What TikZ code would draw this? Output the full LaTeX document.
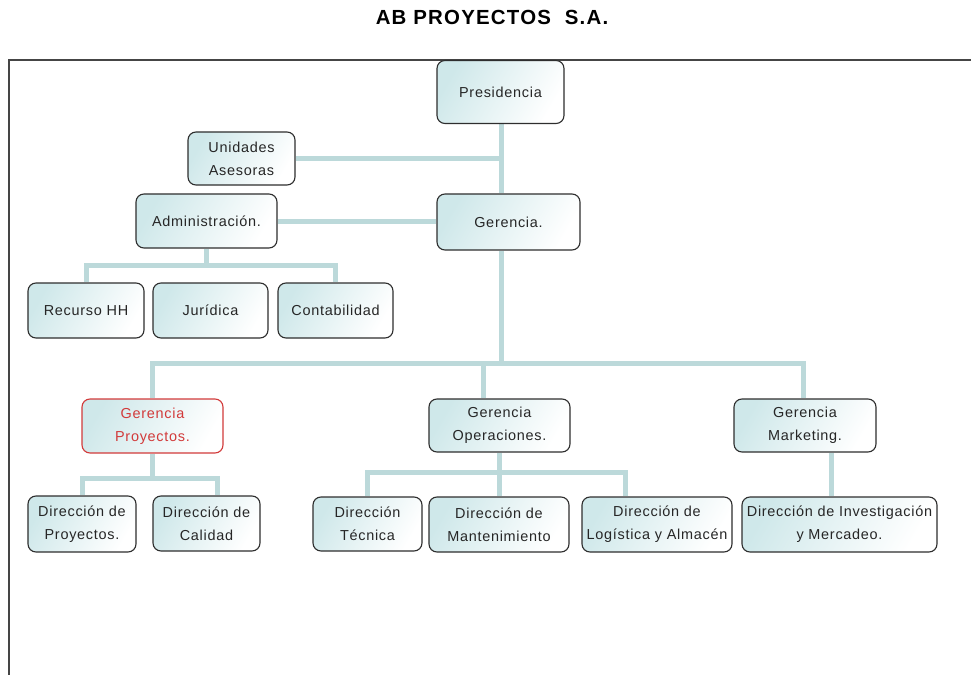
\documentclass[tikz,border=0pt]{standalone}
\usepackage{fontspec}
\setmainfont{Liberation Sans}
\newfontfamily\boxfont[LetterSpace=5]{Liberation Sans}
\newfontfamily\titlefont[LetterSpace=6]{Liberation Sans}
\usetikzlibrary{backgrounds}
\definecolor{connc}{HTML}{BCD9DA}
\definecolor{boxc}{HTML}{CFE8EA}
\definecolor{edgec}{HTML}{2E2E2E}
\definecolor{framec}{HTML}{454545}
\definecolor{redc}{HTML}{D23A3A}
\tikzset{
  orgbox/.style={draw=edgec, line width=1.1bp, rounded corners=8bp,
    left color=boxc, right color=white, shading angle=60,
    align=center, inner sep=0pt,
    font=\boxfont\fontsize{14.5}{23}\selectfont, text=black!85},
  redbox/.style={orgbox, draw=redc, text=redc},
  conn/.style={draw=connc, line width=5bp},
  framel/.style={draw=framec, line width=2.2bp}
}
\newcommand{\bx}[6]{% name, x, y, width, height, style
  \node[#6, minimum width=#4bp, minimum height=#5bp] (#1) at (#2,#3)}
\begin{document}
\begin{tikzpicture}[x=1bp, y=-1bp]
\useasboundingbox (0,0) rectangle (971,675);

% title and page frame
\node[font=\titlefont\bfseries\fontsize{20.5}{24}\selectfont] (title) at (492,17) {AB PROYECTOS~ S.A.};
\draw[framel] (9,675) -- (9,60) -- (971,60);

% boxes
\bx{pres}{500.5}{92}{127}{63}{orgbox} {Presidencia};
\bx{unid}{241.5}{158.5}{107}{53}{orgbox} {Unidades\\Asesoras};
\bx{admin}{206.5}{221}{141}{54}{orgbox} {Administración.};
\bx{ger}{508.5}{222}{143}{56}{orgbox} {Gerencia.};
\bx{rrhh}{86}{310.5}{116}{55}{orgbox} {Recurso HH};
\bx{jur}{210.5}{310.5}{115}{55}{orgbox} {Jurídica};
\bx{cont}{335.5}{310.5}{115}{55}{orgbox} {Contabilidad};
\bx{gproy}{152.5}{426}{141}{54}{redbox} {Gerencia\\Proyectos.};
\bx{gops}{499.5}{425.5}{141}{53}{orgbox} {Gerencia\\Operaciones.};
\bx{gmkt}{805}{425.5}{142}{53}{orgbox} {Gerencia\\Marketing.};
\bx{dproy}{82}{524}{108}{56}{orgbox} {Dirección de\\Proyectos.};
\bx{dcal}{206.5}{523.5}{107}{55}{orgbox} {Dirección de\\Calidad};
\bx{dtec}{367.5}{524}{109}{54}{orgbox} {Dirección\\Técnica};
\bx{dman}{499}{524.5}{140}{55}{orgbox} {Dirección de\\Mantenimiento};
\bx{dlog}{657}{524.5}{150}{55}{orgbox} {Dirección de\\Logística y Almacén};
\bx{dinv}{839.5}{524.5}{195}{55}{orgbox} {Dirección de Investigación\\y Mercadeo.};

% bus levels and drop positions
\coordinate (spine) at (501.5,0);
\coordinate (abar) at (0,265);
\coordinate (gbar) at (0,363);
\coordinate (pbar) at (0,478);
\coordinate (obar) at (0,472);
\coordinate (opsdrop) at (483,0);
\coordinate (caldrop) at (217,0);
\coordinate (logdrop) at (625,0);
\coordinate (mktdrop) at (803,0);
\coordinate (invdrop) at (831,0);

\begin{pgfonlayer}{background}
  % top level
  \draw[conn] (pres.south -| spine) -- (ger.north -| spine);
  \draw[conn] (unid.east) -- (unid.east -| spine);
  \draw[conn] (admin.east) -- (admin.east -| ger.west);
  % administration branch
  \draw[conn] (admin.south) -- (admin.south |- abar);
  \draw[conn] (rrhh.north) -- (rrhh.north |- abar) -- (cont.north |- abar) -- (cont.north);
  % management branch
  \draw[conn] (ger.south -| spine) -- (spine |- gbar);
  \draw[conn] (gproy.north) -- (gproy.north |- gbar) -- (mktdrop |- gbar) -- (gmkt.north -| mktdrop);
  \draw[conn] (opsdrop |- gbar) -- (gops.north -| opsdrop);
  % projects
  \draw[conn] (gproy.south) -- (gproy.south |- pbar);
  \draw[conn] (dproy.north) -- (dproy.north |- pbar) -- (caldrop |- pbar) -- (dcal.north -| caldrop);
  % operations
  \draw[conn] (gops.south) -- (gops.south |- obar);
  \draw[conn] (dtec.north) -- (dtec.north |- obar) -- (logdrop |- obar) -- (dlog.north -| logdrop);
  \draw[conn] (dman.north) -- (dman.north |- obar);
  % marketing
  \draw[conn] (gmkt.south -| invdrop) -- (dinv.north -| invdrop);
\end{pgfonlayer}
\end{tikzpicture}
\end{document}
